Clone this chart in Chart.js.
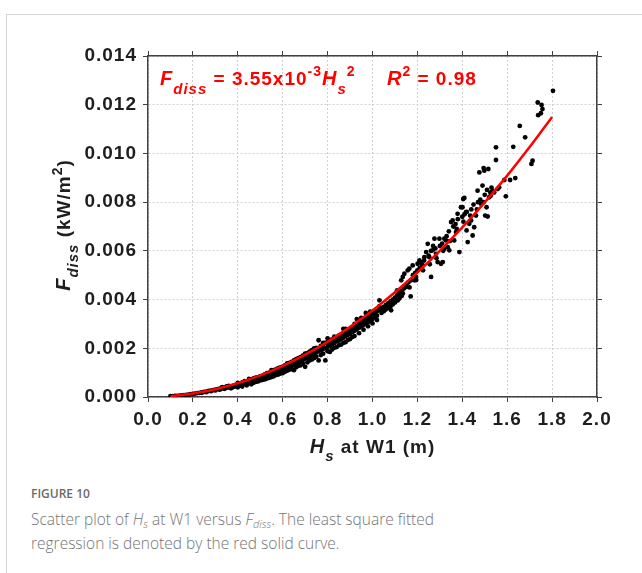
<!DOCTYPE html>
<html lang="en">
<head>
<meta charset="UTF-8">
<title>Figure 10</title>
<script src="https://cdn.jsdelivr.net/npm/chart.js"></script>
<style>
  html, body { margin: 0; padding: 0; background: #fff; overflow: hidden; width: 642px; height: 573px; }
  .frame { position: absolute; left: 6px; top: 14px; width: 800px; height: 800px; border: 1px solid #d4d4d4; }
  #plot { position: absolute; left: 0; top: 0; }
  .fig { position: absolute; left: 31px; top: 486px; font: 600 12px/16px "Open Sans", sans-serif; color: #6a6a6a; }
  .txt { position: absolute; left: 31px; top: 507px; font: 300 15.5px/24px "Open Sans", sans-serif; color: #747474; white-space: nowrap; }
  .txt sub { font-size: 11px; line-height: 0; vertical-align: -3px; }
</style>
</head>
<body>
<div class="frame"></div>
<canvas id="plot" width="642" height="470"></canvas>
<div class="fig">FIGURE 10</div>
<div class="txt">Scatter plot of <i>H<sub>s</sub></i> at W1 versus <i>F<sub>diss</sub></i>. The least square fitted<br>regression is denoted by the red solid curve.</div>
<script>
// observed points: [Hs at W1 (m), Fdiss (kW/m2)]
const observed = [
  [0.10,0.00003],[0.11,0.00004],[0.12,0.00005],[0.12,0.00004],[0.13,0.00005],[0.14,0.00006],[0.15,0.00007],
  [0.16,0.00008],[0.16,0.00007],[0.17,0.00009],[0.18,0.00010],[0.19,0.00012],[0.20,0.00013],[0.20,0.00012],
  [0.21,0.00014],[0.22,0.00016],[0.23,0.00017],[0.24,0.00019],[0.24,0.00017],[0.25,0.00021],[0.26,0.00022],
  [0.26,0.00020],[0.27,0.00025],[0.28,0.00026],[0.28,0.00024],[0.29,0.00028],[0.30,0.00030],[0.30,0.00027],
  [0.31,0.00032],[0.32,0.00034],[0.32,0.00030],[0.33,0.00036],[0.33,0.00040],[0.34,0.00033],[0.34,0.00038],
  [0.35,0.00038],[0.35,0.00044],
  [0.36,0.00040],[0.36,0.00046],[0.37,0.00043],[0.37,0.00036],[0.38,0.00047],[0.38,0.00041],[0.39,0.00050],
  [0.39,0.00044],[0.40,0.00052],[0.40,0.00045],[0.40,0.00058],[0.41,0.00055],[0.41,0.00047],[0.42,0.00060],
  [0.42,0.00050],[0.43,0.00056],[0.43,0.00065],[0.44,0.00054],[0.44,0.00062],[0.45,0.00068],[0.45,0.00058],
  [0.46,0.00072],[0.46,0.00060],[0.47,0.00066],[0.47,0.00076],[0.48,0.00070],[0.48,0.00079],[0.48,0.00062],
  [0.49,0.00082],[0.49,0.00072],[0.50,0.00085],[0.50,0.00076],[0.50,0.00068],[0.51,0.00088],[0.51,0.00078],
  [0.52,0.00093],[0.52,0.00082],[0.52,0.00072],[0.53,0.00098],[0.53,0.00086],[0.54,0.00100],[0.54,0.00090],
  [0.54,0.00079],[0.55,0.00105],[0.55,0.00093],[0.56,0.00110],[0.56,0.00097],[0.56,0.00085],[0.57,0.00113],
  [0.57,0.00101],[0.58,0.00118],[0.58,0.00104],[0.58,0.00092],[0.59,0.00122],[0.59,0.00108],[0.60,0.00125],
  [0.60,0.00112],[0.60,0.00098],
  [0.61,0.00130],[0.61,0.00116],[0.62,0.00134],[0.62,0.00120],[0.62,0.00108],[0.63,0.00140],[0.63,0.00125],
  [0.64,0.00144],[0.64,0.00128],[0.64,0.00115],[0.65,0.00150],[0.65,0.00133],[0.65,0.00110],[0.66,0.00155],
  [0.66,0.00138],[0.67,0.00160],[0.67,0.00142],[0.67,0.00128],[0.68,0.00164],[0.68,0.00148],[0.69,0.00170],
  [0.69,0.00152],[0.69,0.00136],[0.70,0.00175],[0.70,0.00124],[0.70,0.00158],[0.71,0.00180],[0.71,0.00162],
  [0.72,0.00186],[0.72,0.00168],[0.72,0.00150],[0.73,0.00192],[0.73,0.00172],[0.74,0.00196],[0.74,0.00178],
  [0.74,0.00160],[0.75,0.00202],[0.75,0.00183],[0.76,0.00233],[0.76,0.00150],[0.76,0.00188],[0.77,0.00210],
  [0.77,0.00192],[0.77,0.00172],[0.78,0.00215],[0.78,0.00198],[0.79,0.00222],[0.79,0.00200],[0.79,0.00150],
  [0.80,0.00241],[0.80,0.00226],[0.80,0.00205],[0.81,0.00230],[0.81,0.00210],[0.81,0.00185],[0.82,0.00236],
  [0.82,0.00216],[0.82,0.00195],[0.83,0.00240],[0.83,0.00222],[0.84,0.00246],[0.84,0.00228],[0.84,0.00205],
  [0.85,0.00252],[0.85,0.00232],[0.86,0.00256],[0.86,0.00238],[0.86,0.00215],[0.87,0.00280],[0.87,0.00262],
  [0.87,0.00243],[0.88,0.00268],[0.88,0.00250],[0.88,0.00225],[0.89,0.00272],[0.89,0.00255],[0.90,0.00278],
  [0.90,0.00260],[0.90,0.00238],[0.91,0.00285],[0.91,0.00266],[0.92,0.00292],[0.92,0.00272],[0.92,0.00250],
  [0.93,0.00298],[0.93,0.00278],[0.93,0.00320],[0.94,0.00302],[0.94,0.00284],[0.95,0.00310],[0.95,0.00290],
  [0.96,0.00316],[0.96,0.00296],[0.97,0.00345],[0.97,0.00322],[0.97,0.00302],[0.98,0.00328],[0.98,0.00308],
  [0.99,0.00334],[0.99,0.00314],[1.00,0.00340],[1.00,0.00320],[1.01,0.00346],[1.01,0.00328],[1.02,0.00352],
  [1.02,0.00334],[1.03,0.00358],[1.04,0.00364],[1.04,0.00345],[1.05,0.00370],[1.05,0.00352],[1.06,0.00378],
  [1.06,0.00360],[1.07,0.00385],[1.07,0.00366],[1.08,0.00392],[1.08,0.00372],[1.09,0.00400],[1.09,0.00380],
  [1.10,0.00408],[1.10,0.00388],[1.11,0.00418],[1.11,0.00438],[1.12,0.00428],[1.12,0.00405],[1.13,0.00436],
  [1.13,0.00415],[1.14,0.00445],[1.15,0.00460],[1.16,0.00470],[1.17,0.00413],[1.18,0.00500],[1.19,0.00510],
  [1.20,0.00520],[1.21,0.00530],[1.22,0.00545],[1.23,0.00560],[1.25,0.00580],[1.26,0.00600],[1.27,0.00620],
  [1.28,0.00610],[1.30,0.00620],[1.31,0.00630],[1.32,0.00650],[1.33,0.00660],[1.34,0.00680],[1.36,0.00700],
  [1.37,0.00710],[1.38,0.00730],[1.40,0.00740],[1.41,0.00750],[1.42,0.00760],[1.44,0.00770],[1.45,0.00790],
  [1.47,0.00800],[1.48,0.00810],[1.50,0.00830],[1.51,0.00850],[1.53,0.00860],
  [1.031,0.00397],[1.053,0.00356],[1.076,0.00370],[1.083,0.00356],[1.113,0.00397],[1.120,0.00424],
  [1.128,0.00479],[1.135,0.00493],[1.142,0.00506],[1.150,0.00452],[1.157,0.00520],[1.164,0.00527],
  [1.172,0.00479],[1.179,0.00540],[1.187,0.00479],[1.194,0.00493],[1.201,0.00547],[1.209,0.00561],
  [1.216,0.00554],[1.224,0.00540],[1.231,0.00574],[1.239,0.00595],[1.246,0.00629],[1.253,0.00574],
  [1.261,0.00493],[1.268,0.00602],[1.276,0.00650],[1.283,0.00588],[1.290,0.00554],[1.298,0.00650],
  [1.305,0.00547],[1.313,0.00554],[1.320,0.00609],[1.327,0.00643],[1.335,0.00615],[1.342,0.00602],
  [1.350,0.00718],[1.357,0.00725],[1.364,0.00643],[1.372,0.00677],[1.379,0.00752],[1.387,0.00595],
  [1.394,0.00779],[1.401,0.00779],[1.404,0.00813],[1.409,0.00817],[1.416,0.00759],[1.419,0.00684],
  [1.424,0.00636],[1.431,0.00711],[1.439,0.00725],[1.446,0.00663],[1.453,0.00697],[1.461,0.00745],
  [1.468,0.00847],[1.476,0.00922],[1.483,0.00793],[1.490,0.00868],[1.495,0.00940],[1.498,0.00929],
  [1.502,0.00745],[1.508,0.00779],[1.513,0.00741],[1.516,0.00936],[1.520,0.00820],[1.527,0.00827],
  [1.535,0.00847],[1.542,0.00840],[1.550,0.01025],[1.550,0.00973],[1.557,0.00854],[1.564,0.00861],
  [1.594,0.00824],[1.587,0.00891],[1.613,0.00891],[1.627,0.01027],[1.636,0.00899],[1.656,0.01113],
  [1.680,0.01066],[1.708,0.00957],[1.713,0.00970],[1.736,0.01209],[1.753,0.01199],[1.757,0.01182],
  [1.750,0.01165],[1.738,0.01157],[1.804,0.01257],
  // lower edge of the dense band
  [0.40,0.00040],[0.42,0.00043],[0.44,0.00048],[0.46,0.00052],[0.47,0.00058],[0.49,0.00064],[0.51,0.00070],
  [0.53,0.00076],[0.55,0.00082],[0.57,0.00090],[0.59,0.00096],[0.61,0.00104],[0.63,0.00112],[0.66,0.00122],
  [0.68,0.00130],[0.71,0.00142],[0.73,0.00154],[0.75,0.00166],[0.78,0.00178],[0.80,0.00188],[0.83,0.00202],
  [0.85,0.00212],[0.87,0.00222],[0.89,0.00234],[0.91,0.00246],[0.94,0.00262],[0.96,0.00276],[0.98,0.00290],
  [1.00,0.00302],[1.02,0.00316],
  // points sitting on / above the curve
  [0.45,0.00074],[0.55,0.00110],[0.62,0.00138],[0.70,0.00178],[0.74,0.00200],[0.78,0.00222],[0.83,0.00248],
  [0.88,0.00280],[0.92,0.00300],[0.95,0.00325],[0.99,0.00350],[1.03,0.00372],
  // middle of the band
  [0.505,0.00080],[0.535,0.00092],[0.565,0.00104],[0.595,0.00115],[0.625,0.00128],[0.655,0.00142],
  [0.685,0.00155],[0.715,0.00170],[0.745,0.00185],[0.775,0.00200],[0.805,0.00218],[0.835,0.00232],
  [0.865,0.00248],[0.895,0.00262],[0.925,0.00285],[0.955,0.00300],[0.985,0.00318],[1.015,0.00335],
  [1.045,0.00355],[1.075,0.00375],[1.105,0.00395],[1.135,0.00425],[1.165,0.00450],[1.195,0.00480],
  [1.225,0.00520],[1.255,0.00545],[1.285,0.00570],[1.315,0.00600],[1.345,0.00640],[1.375,0.00690],
  [1.405,0.00720],[1.435,0.00745],[1.465,0.00770],[1.495,0.00800],[1.525,0.00840]
];

// fitted curve
const fitHs    = [0.10, 0.20, 0.30, 0.40, 0.50, 0.60, 0.70, 0.80, 0.90, 1.00, 1.10, 1.20, 1.30, 1.40, 1.50, 1.60, 1.70, 1.80];
const fitFdiss = [0.000036, 0.000142, 0.00032, 0.000568, 0.000888, 0.00128, 0.00174, 0.00227, 0.00288, 0.00355,
                  0.0043, 0.00511, 0.006, 0.00696, 0.00799, 0.00909, 0.01026, 0.0115];

const xTickLabels = ['0.0','0.2','0.4','0.6','0.8','1.0','1.2','1.4','1.6','1.8','2.0'];
const yTickLabels = ['0.000','0.002','0.004','0.006','0.008','0.010','0.012','0.014'];

const FONT = '"Liberation Sans", Arial, sans-serif';
const TEXT = '#1e1e1e';
const AXIS = '#404040';

function drawRich(ctx, parts, x, y, align) {
  const fontOf = p => (p.i ? 'italic ' : '') + 'bold ' + p.s + 'px ' + FONT;
  let w = 0;
  parts.forEach(p => { ctx.font = fontOf(p); w += ctx.measureText(p.t).width; });
  let cx = align === 'center' ? x - w / 2 : x;
  parts.forEach(p => {
    ctx.font = fontOf(p);
    ctx.fillText(p.t, cx, y + (p.dy || 0));
    cx += ctx.measureText(p.t).width;
  });
}

const textPlugin = {
  id: 'richText',
  beforeDraw(chart) { chart.ctx.letterSpacing = '1px'; },
  afterDraw(chart) {
    const ctx = chart.ctx;
    const a = chart.chartArea;
    ctx.save();
    ctx.letterSpacing = '1px';
    ctx.textAlign = 'left';
    ctx.textBaseline = 'alphabetic';

    // equation
    ctx.fillStyle = '#ff0000';
    drawRich(ctx, [
      {t: 'F', s: 20, i: true}, {t: 'diss', s: 15, i: true, dy: 9},
      {t: ' = 3.55x10', s: 19}, {t: '-3', s: 14, dy: -9},
      {t: 'H', s: 20, i: true}, {t: 's', s: 15, i: true, dy: 9}, {t: '2', s: 14, dy: -9},
      {t: '     ', s: 19},
      {t: 'R', s: 20, i: true}, {t: '2', s: 14, dy: -9}, {t: ' = 0.98', s: 19}
    ], a.left + 12, a.top + 29, 'left');

    // x title
    ctx.fillStyle = TEXT;
    drawRich(ctx, [
      {t: 'H', s: 20, i: true}, {t: 's', s: 15, i: true, dy: 8}, {t: ' at W1 (m)', s: 19}
    ], (a.left + a.right) / 2, 453, 'center');

    // y title
    ctx.translate(70, 225);
    ctx.rotate(-Math.PI / 2);
    drawRich(ctx, [
      {t: 'F', s: 20, i: true}, {t: 'diss', s: 15, i: true, dy: 8},
      {t: ' (kW/m', s: 19}, {t: '2', s: 14, dy: -8}, {t: ')', s: 19}
    ], 0, 0, 'center');
    ctx.restore();
  }
};

const tickFont = {family: FONT, size: 19, weight: 'bold'};

new Chart(document.getElementById('plot'), {
  type: 'scatter',
  data: {
    datasets: [
      {
        type: 'line',
        data: fitHs.map((x, i) => ({x: x, y: fitFdiss[i]})),
        borderColor: '#ff0000',
        borderWidth: 2.5,
        pointRadius: 0,
        tension: 0.4,
        fill: false,
        order: 0
      },
      {
        data: observed.map(p => ({x: p[0], y: p[1]})),
        backgroundColor: '#000',
        borderWidth: 0,
        pointRadius: 2.4,
        order: 1
      }
    ]
  },
  options: {
    responsive: false,
    animation: false,
    layout: {padding: 0},
    plugins: {legend: {display: false}, tooltip: {enabled: false}},
    scales: {
      x: {
        type: 'linear', position: 'bottom', min: 0, max: 2,
        afterFit: s => { s.height = 73; },
        ticks: {stepSize: 0.2, padding: 6, color: TEXT, font: tickFont, maxRotation: 0,
                callback: (v, i) => xTickLabels[i]},
        grid: {color: '#d0d0d0', tickColor: AXIS, tickLength: 5, lineWidth: 1},
        border: {color: AXIS, width: 1.5, dash: [2, 2]}
      },
      y: {
        type: 'linear', position: 'left', min: 0, max: 0.014,
        afterFit: s => { s.width = 148; },
        ticks: {stepSize: 0.002, padding: 6, color: TEXT, font: tickFont,
                callback: (v, i) => yTickLabels[i]},
        grid: {color: '#d0d0d0', tickColor: AXIS, tickLength: 5, lineWidth: 1},
        border: {color: AXIS, width: 1.5, dash: [2, 2]}
      },
      x2: {
        type: 'linear', position: 'top', min: 0, max: 2,
        afterFit: s => { s.height = 56; },
        ticks: {stepSize: 0.2, display: false},
        grid: {drawOnChartArea: false, color: AXIS, tickLength: 5},
        border: {color: AXIS, width: 1.5}
      },
      y2: {
        type: 'linear', position: 'right', min: 0, max: 0.014,
        afterFit: s => { s.width = 45; },
        ticks: {stepSize: 0.002, display: false},
        grid: {drawOnChartArea: false, color: AXIS, tickLength: 5},
        border: {color: AXIS, width: 1.5}
      }
    }
  },
  plugins: [textPlugin]
});
</script>
</body>
</html>
